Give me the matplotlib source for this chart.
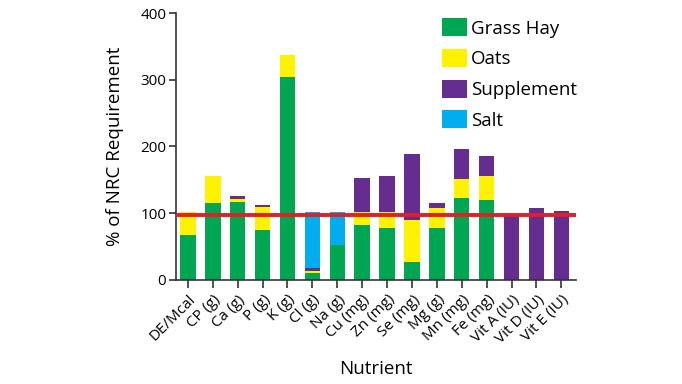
import matplotlib
matplotlib.use("Agg")
import matplotlib.pyplot as plt
import numpy as np

plt.rcParams['font.family'] = ['Open Sans', 'DejaVu Sans']

nutrients = ["DE/Mcal", "CP (g)", "Ca (g)", "P (g)", "K (g)", "Cl (g)", "Na (g)",
             "Cu (mg)", "Zn (mg)", "Se (mg)", "Mg (g)", "Mn (mg)", "Fe (mg)",
             "Vit A (IU)", "Vit D (IU)", "Vit E (IU)"]
grass_hay  = [67, 115, 116, 74, 305, 10, 52, 82, 78, 27, 78, 122, 119, 0, 0, 0]
oats       = [34, 41, 5, 35, 33, 3, 0, 19, 23, 62, 29, 29, 37, 0, 0, 0]
supplement = [0, 0, 5, 3, 0, 5, 0, 51, 55, 100, 8, 45, 29, 97, 107, 103]
salt       = [0, 0, 0, 0, 0, 83, 49, 0, 0, 0, 0, 0, 0, 0, 0, 0]
requirement = 97
yticks = [0, 100, 200, 300, 400]

c_green = "#00A651"
c_yellow = "#FFF200"
c_purple = "#662D91"
c_blue = "#00AEEF"

fig = plt.figure(figsize=(6.82, 3.84), dpi=100)
ax = fig.add_axes([0.258, 0.272, 0.587, 0.693])

x = np.arange(len(nutrients))
w = 0.62
g = np.array(grass_hay); o = np.array(oats); s = np.array(supplement); sa = np.array(salt)
ax.bar(x, g, w, color=c_green, label="Grass Hay")
ax.bar(x, o, w, bottom=g, color=c_yellow, label="Oats")
ax.bar(x, s, w, bottom=g + o, color=c_purple, label="Supplement")
ax.bar(x, sa, w, bottom=g + o + s, color=c_blue, label="Salt")

ax.axhline(requirement, color="#E31E24", lw=2.8, zorder=5)

ax.set_xlim(-0.48, 15.6)
ax.set_ylim(0, 400)
ax.set_yticks(yticks)
ax.set_xticks(x)
ax.set_xticklabels(nutrients, rotation=45, ha="right", rotation_mode="anchor", fontsize=11)
ax.tick_params(axis="y", labelsize=11, length=5, width=1.2, color="#333333", pad=2)
ax.tick_params(axis="x", length=6, width=1.2, color="#333333", pad=3)
for sp in ["top", "right"]:
    ax.spines[sp].set_visible(False)
for sp in ["left", "bottom"]:
    ax.spines[sp].set_linewidth(1.2)
    ax.spines[sp].set_color("#333333")

ax.set_ylabel("% of NRC Requirement", fontsize=13.5, labelpad=12)
ax.set_xlabel("Nutrient", fontsize=13.5, labelpad=10)

ax.legend(loc="upper left", bbox_to_anchor=(0.645, 1.01), frameon=False, fontsize=13.5,
          handlelength=1.35, handleheight=1.1, handletextpad=0.2, labelspacing=0.6,
          borderaxespad=0.0)

fig.savefig("out.png", dpi=100)
